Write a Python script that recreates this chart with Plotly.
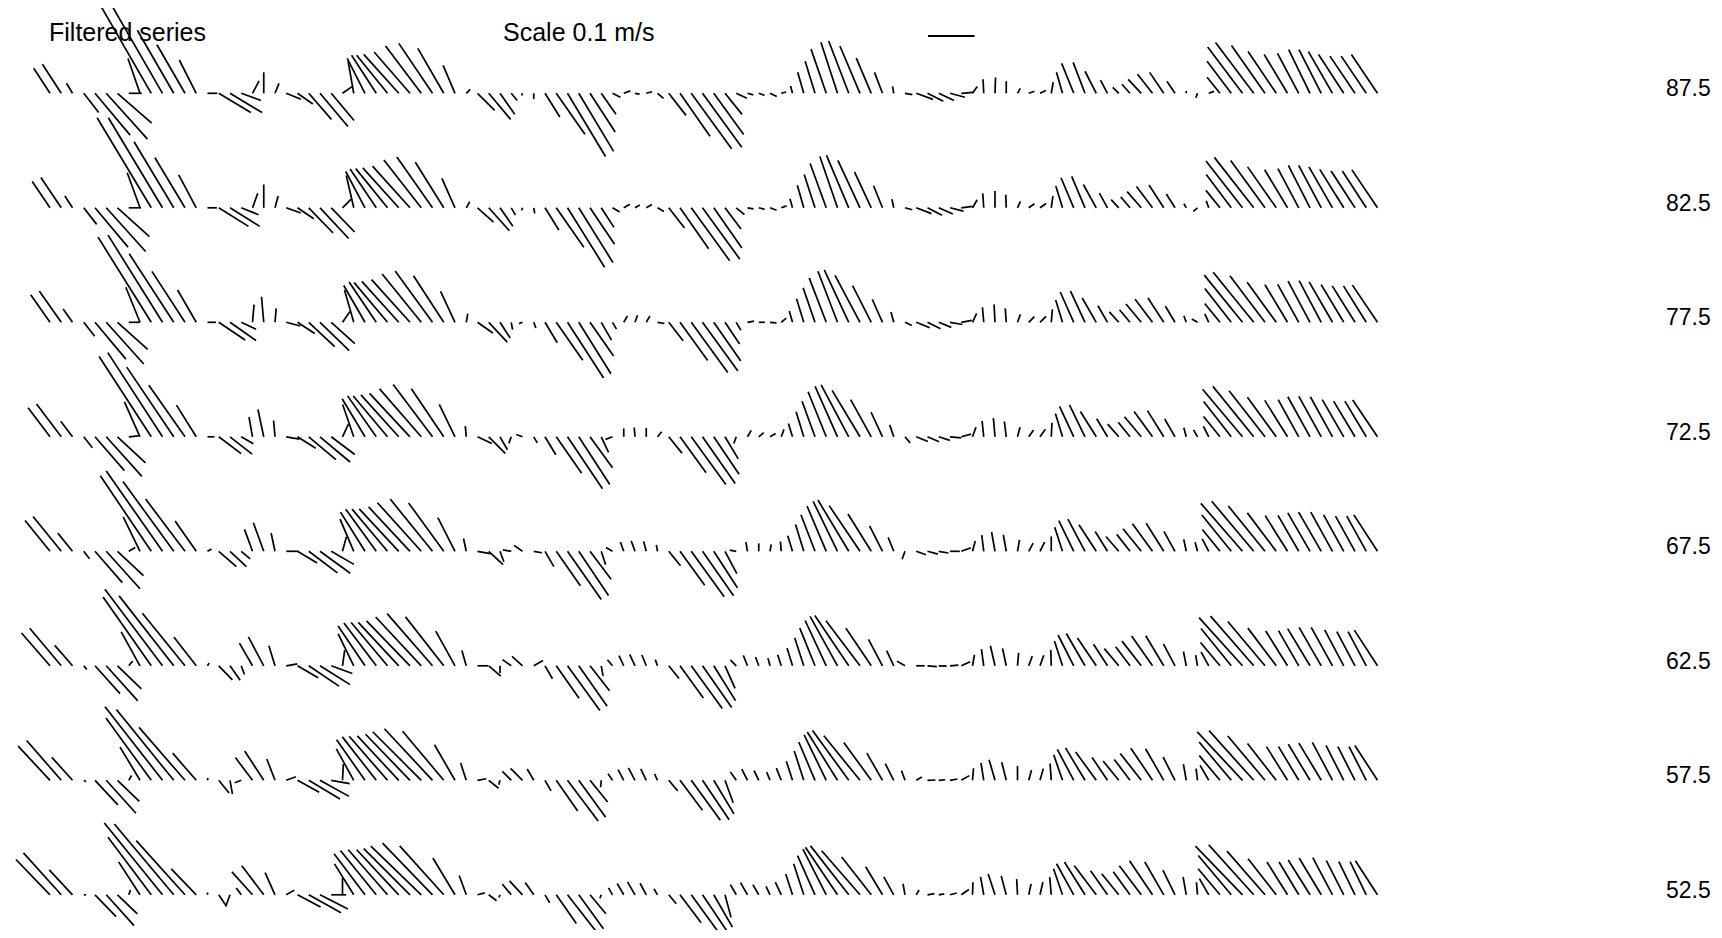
import math
import plotly.graph_objects as go

# ---------------- data ----------------
depths = [87.5, 82.5, 77.5, 72.5, 67.5, 62.5, 57.5, 52.5]
depth_labels = ["87.5", "82.5", "77.5", "72.5", "67.5", "62.5", "57.5", "52.5"]
time_index = list(range(119))

# speed (cm/s) and direction (deg clockwise from north), one pair of lists per depth
spd_87_5 = [6.4, 7.4, 2.5, 5.2, 11.7, 13.2, 9.7, 2.8, 7.9, 22.5, 21.8, 15.6, 12, 8, 2.1, 8, 8, 4.5, 3, 4.5,
            2.3, 3.4, 4, 7.4, 9.3, 7.6, 2.5, 7, 8.4, 9.7, 10.5, 11.2, 11.7, 12.7, 12.9, 11.1, 6.5, 1.2, 5.2, 7.3,
            5.5, 2, 0.5, 1.2, 6, 10.7, 15.8, 14.5, 9.9, 5.5, 1.9, 1.5, 1, 1.3, 1.7, 6, 11.2, 14.7, 14.3, 10.9,
            5.8, 2.5, 1.3, 1.3, 1.6, 1.1, 1.6, 4.7, 7.2, 10, 11.5, 12, 11, 8.2, 4.8, 1.5, 1.6, 3.8, 3.8, 3.6,
            3.3, 2.5, 1.8, 3, 3.4, 2.6, 1.2, 1.3, 1.4, 2.4, 4.7, 6.9, 7.1, 5.3, 3.2, 1.8, 2.6, 4.1, 5.2, 5.4,
            3.1, 0.5, 1, 1.2, 4.4, 8.6, 12.4, 13.6, 12.5, 10.8, 9.7, 9.7, 10.4, 10.5, 10.3, 9.9, 9.6, 9.6, 10]
dir_87_5 = [327, 327, 329, 142, 140, 138, 131, 90, 341, 330, 330, 330, 330, 333, 90, 121, 121, 110, 28, 0,
            22, 112, 125, 139, 140, 140, 55, 350, 333, 327, 321, 318, 319, 323, 326, 330, 337, 45, 135, 140,
            145, 140, 200, 180, 148, 145, 149, 149, 147, 145, 117, 70, 100, 75, 130, 142, 145, 144, 144, 144,
            141, 115, 105, 110, 115, 75, 345, 344, 343, 341, 342, 339, 337, 337, 339, 350, 100, 110, 117, 115,
            105, 85, 35, 357, 2, 0, 30, 70, 65, 10, 344, 338, 339, 333, 332, 315, 318, 317, 322, 326,
            326, 0, 200, 70, 321, 323, 323, 323, 325, 326, 329, 332, 334, 333, 330, 327, 326, 326, 326]

spd_82_5 = [6.8, 7.8, 3, 4.5, 11, 12.6, 9.2, 2.6, 8, 22.5, 22.5, 16.5, 12.5, 8, 2, 7.5, 7.5, 4, 3.3, 5,
            2.6, 3.3, 4.2, 7.5, 9, 7.2, 2.6, 7.1, 8.8, 10, 10.8, 11.5, 12, 13, 13.3, 11.5, 6.9, 1.5, 4.6, 6.6,
            4.8, 1.8, 0.6, 1.2, 5.6, 10.3, 15, 13.8, 9.4, 5, 1.8, 1.5, 1.2, 1.4, 1.6, 5.5, 10.7, 14, 13.6, 10.5,
            5.7, 2.3, 1.3, 1.3, 1.5, 1.2, 2, 5, 7.5, 10.1, 11.6, 12.2, 11.2, 8.5, 5.1, 1.9, 1.6, 3.5, 3.5, 3.3,
            3, 2.4, 2, 3.1, 3.6, 2.8, 1.5, 1.5, 1.6, 2.6, 4.9, 7, 7.3, 5.7, 3.6, 2.4, 3.1, 4.6, 5.7, 5.8,
            3.5, 1, 1.2, 1.6, 4.8, 8.9, 12.7, 13.7, 12.5, 10.7, 9.5, 9.5, 10.2, 10.3, 10.1, 9.7, 9.4, 9.4, 9.8]
dir_82_5 = [326, 326, 327, 142, 140, 138, 132, 90, 340, 329, 329, 329, 329, 332, 90, 122, 122, 112, 20, 0,
            15, 110, 124, 136, 137, 136, 45, 347, 332, 326, 321, 318, 318, 322, 325, 328, 336, 30, 132, 138,
            145, 150, 200, 170, 148, 145, 148, 148, 146, 147, 120, 60, 60, 60, 120, 142, 145, 144, 144, 145,
            143, 130, 100, 105, 110, 70, 344, 344, 342, 340, 341, 337, 335, 335, 338, 348, 105, 111, 117, 114,
            104, 83, 30, 356, 0, 358, 25, 55, 55, 8, 343, 337, 337, 331, 331, 317, 320, 319, 323, 327,
            328, 330, 230, 340, 321, 323, 322, 322, 324, 325, 329, 332, 333, 332, 330, 328, 327, 327, 326]

spd_77_5 = [7.2, 8.2, 3.5, 3.8, 10.3, 12, 8.7, 2.4, 8.1, 21.5, 22, 17.5, 13, 8, 1.8, 6.8, 6.8, 3.5, 3.8, 5.5,
            3, 3.1, 4.4, 7.6, 8.7, 6.8, 2.8, 7.2, 9.1, 10.4, 11.1, 11.8, 12.3, 13.3, 13.6, 11.9, 7.3, 1.9, 4, 5.8,
            4, 1.6, 0.8, 1.3, 5.1, 9.9, 14.2, 13, 8.8, 4.4, 1.7, 1.6, 1.6, 1.6, 1.5, 5, 10.1, 13.3, 12.9, 10.1,
            5.6, 2, 1.4, 1.3, 1.4, 1.4, 2.5, 5.3, 7.8, 10.2, 11.7, 12.4, 11.4, 8.8, 5.4, 2.3, 1.6, 3.1, 3.1, 2.9,
            2.7, 2.3, 2.1, 3.2, 3.8, 3, 1.8, 1.7, 1.8, 2.8, 5, 7.1, 7.4, 6, 4.1, 3, 3.5, 5.1, 6.2, 6.2,
            4, 1.5, 1.4, 2, 5.2, 9.2, 13, 13.8, 12.5, 10.6, 9.4, 9.3, 10, 10.1, 10, 9.4, 9.2, 9.2, 9.6]
dir_77_5 = [325, 325, 325, 142, 140, 138, 132, 90, 338, 328, 328, 327, 327, 330, 90, 124, 125, 115, 5, 355,
            5, 105, 123, 133, 134, 132, 35, 344, 330, 326, 320, 318, 318, 321, 324, 327, 335, 10, 125, 137,
            147, 170, 250, 160, 149, 145, 147, 148, 145, 150, 150, 30, 20, 30, 100, 142, 144, 144, 144, 145,
            146, 150, 80, 90, 95, 50, 344, 343, 341, 339, 339, 335, 332, 333, 336, 345, 115, 112, 116, 112,
            100, 80, 25, 355, 357, 356, 20, 45, 45, 5, 343, 336, 335, 330, 330, 318, 320, 320, 323, 327,
            329, 340, 300, 335, 321, 322, 321, 321, 323, 324, 329, 331, 332, 332, 330, 329, 328, 328, 326]

spd_72_5 = [7.8, 8.8, 4.2, 3, 9.6, 11.4, 8.2, 2.1, 8.2, 20.5, 21.5, 18, 13.5, 8, 1.5, 6, 6, 3, 4.3, 6,
            3.5, 2.9, 4.6, 7.6, 8.4, 6.3, 3, 7.3, 9.5, 10.7, 11.4, 12.1, 12.7, 13.6, 14, 12.4, 7.7, 2.3, 3.4, 5,
            3.2, 1.5, 1.4, 1.5, 4.5, 9.5, 13.4, 12.2, 8.2, 3.7, 1.6, 1.8, 2, 1.9, 1.4, 4.5, 9.5, 12.6, 12.2, 9.7,
            5.5, 1.5, 1.6, 1.4, 1.4, 1.7, 3, 5.6, 8.1, 10.4, 11.8, 12.6, 11.6, 9.1, 5.8, 2.7, 1.7, 2.7, 2.7, 2.5,
            2.4, 2.2, 2.2, 3.4, 4, 3.3, 2.1, 1.8, 2, 3, 5.2, 7.2, 7.6, 6.4, 4.5, 3.6, 4, 5.6, 6.7, 6.6,
            4.4, 2, 1.7, 2.5, 5.6, 9.6, 13.3, 13.9, 12.5, 10.5, 9.2, 9.1, 9.8, 9.9, 9.8, 9.2, 8.9, 8.9, 9.5]
dir_72_5 = [323, 323, 323, 142, 139, 138, 133, 85, 336, 327, 327, 326, 325, 328, 90, 127, 128, 120, 350, 348,
            355, 100, 122, 130, 130, 127, 25, 341, 329, 325, 320, 318, 317, 319, 323, 326, 334, 355, 115, 135,
            150, 200, 290, 150, 149, 145, 146, 147, 144, 155, 250, 0, 355, 0, 40, 141, 144, 144, 145, 146,
            149, 200, 30, 50, 60, 20, 343, 343, 340, 338, 336, 332, 329, 331, 335, 341, 140, 112, 113, 108,
            95, 75, 20, 354, 355, 353, 15, 35, 35, 3, 343, 335, 334, 328, 329, 319, 321, 320, 324, 328,
            330, 345, 330, 333, 321, 322, 320, 321, 322, 324, 328, 331, 331, 331, 331, 330, 329, 329, 326]

spd_67_5 = [8.5, 9.6, 5, 2, 8.9, 10.8, 7.6, 1.6, 8.2, 19.5, 21, 18.5, 14, 7.9, 1, 5, 4.8, 2.5, 5, 6.5,
            4, 2.6, 4.9, 7.7, 8, 5.6, 3.2, 7.5, 9.9, 11.1, 11.8, 12.4, 13, 14, 14.4, 12.8, 8.1, 2.8, 2.8, 4.2,
            2.4, 1.8, 2.2, 1.8, 3.8, 9, 12.6, 11.4, 7.5, 3, 1.6, 2.1, 2.4, 2.2, 1.4, 4, 9, 12, 11.6, 9.3,
            5.4, 1.4, 2, 1.7, 1.5, 2.1, 3.5, 6, 8.4, 10.5, 11.9, 12.8, 11.8, 9.4, 6.1, 3.2, 1.8, 2.2, 2.3, 2.1,
            2.1, 2.2, 2.3, 3.5, 4.2, 3.6, 2.5, 2, 2.2, 3.2, 5.4, 7.3, 7.8, 6.8, 5, 4.2, 4.6, 6.2, 7.3, 7.1,
            4.9, 2.6, 2, 3, 6, 10, 13.6, 14, 12.5, 10.3, 9, 8.9, 9.5, 9.7, 9.6, 8.9, 8.6, 8.6, 9.3]
dir_67_5 = [321, 321, 321, 142, 139, 138, 133, 60, 334, 326, 325, 324, 323, 325, 60, 131, 133, 130, 340, 340,
            348, 90, 121, 127, 126, 120, 15, 337, 328, 324, 320, 317, 317, 318, 321, 324, 333, 348, 100, 133,
            160, 280, 305, 100, 150, 145, 145, 146, 143, 162, 300, 340, 340, 345, 350, 141, 144, 144, 145, 147,
            152, 280, 350, 0, 10, 355, 343, 343, 339, 337, 334, 329, 326, 328, 333, 338, 200, 110, 105, 100,
            90, 70, 15, 353, 350, 350, 10, 28, 27, 0, 342, 334, 332, 327, 328, 319, 322, 321, 324, 328,
            331, 348, 345, 332, 321, 321, 319, 320, 321, 323, 328, 330, 330, 330, 331, 331, 331, 331, 327]

spd_62_5 = [9.3, 10.5, 5.8, 1, 8, 10.1, 7.1, 1.3, 8.3, 18, 20.5, 19, 14.5, 7.8, 0.7, 4.2, 3.8, 2, 5.6, 7,
            4.5, 2.4, 5.1, 7.8, 7.6, 4.8, 3.4, 7.6, 10.3, 11.5, 12.1, 12.7, 13.4, 14.3, 14.8, 13.3, 8.5, 3.4, 2.3, 3.4,
            1.6, 2.3, 3, 2.3, 3.2, 8.5, 11.8, 10.6, 6.8, 2.2, 1.7, 2.4, 2.7, 2.5, 1.4, 3.5, 8.5, 11.3, 10.9, 8.8,
            5.3, 1.8, 2.4, 2, 1.7, 2.5, 4, 6.3, 8.7, 10.7, 12.1, 13, 12.1, 9.7, 6.4, 3.6, 2, 1.8, 2, 1.7,
            1.8, 2.1, 2.4, 3.6, 4.4, 3.8, 2.8, 2.2, 2.4, 3.4, 5.6, 7.4, 8, 7.2, 5.5, 4.8, 5.1, 6.7, 7.8, 7.5,
            5.3, 3.1, 2.3, 3.4, 6.5, 10.3, 13.9, 14.1, 12.4, 10.1, 8.8, 8.7, 9.3, 9.5, 9.4, 8.7, 8.3, 8.3, 9.1]
dir_62_5 = [319, 320, 319, 140, 138, 138, 134, 40, 331, 325, 323, 322, 321, 322, 30, 136, 145, 160, 330, 332,
            343, 80, 120, 124, 122, 110, 8, 334, 326, 323, 320, 317, 316, 317, 319, 322, 331, 344, 90, 131,
            180, 305, 312, 60, 150, 145, 144, 145, 142, 170, 320, 335, 335, 338, 340, 141, 144, 144, 145, 148,
            156, 315, 338, 340, 345, 342, 343, 342, 338, 335, 331, 326, 323, 326, 332, 335, 300, 90, 95, 92,
            85, 65, 10, 352, 347, 348, 5, 20, 20, 358, 342, 333, 330, 326, 327, 320, 323, 322, 325, 329,
            332, 349, 350, 331, 320, 321, 318, 319, 320, 323, 328, 330, 329, 330, 331, 332, 332, 332, 327]

spd_57_5 = [10, 11.3, 6.6, 0.6, 7.2, 9.5, 6.5, 1.2, 8.3, 16.5, 20, 19.5, 15, 7.7, 0.5, 3.5, 3, 1.5, 6.1, 7.5,
            4.9, 2.2, 5.3, 7.8, 7.1, 4, 3.5, 7.7, 10.6, 11.8, 12.5, 13, 13.7, 14.7, 15.1, 13.7, 8.8, 3.9, 1.9, 2.7,
            1, 2.7, 3.6, 2.8, 2.6, 8, 10.9, 9.8, 6, 1.5, 1.7, 2.6, 3, 2.7, 1.5, 3, 8, 10.6, 10.2, 8.4,
            5.1, 2.2, 2.7, 2.3, 1.9, 2.8, 4.3, 6.6, 8.9, 10.8, 12.2, 13.2, 12.3, 10, 6.7, 4, 2.2, 1.4, 1.7, 1.4,
            1.6, 2, 2.6, 3.8, 4.6, 4, 3.1, 2.3, 2.6, 3.6, 5.8, 7.5, 8.1, 7.5, 5.9, 5.3, 5.6, 7.3, 8.3, 7.8,
            5.6, 3.5, 2.5, 3.7, 6.9, 10.7, 14.2, 14.3, 12.4, 10, 8.5, 8.4, 9, 9.3, 9.2, 8.4, 8.1, 8.1, 8.9]
dir_57_5 = [317, 319, 318, 120, 137, 138, 134, 30, 329, 324, 322, 321, 319, 319, 10, 141, 170, 250, 323, 327,
            339, 70, 119, 121, 119, 100, 3, 331, 325, 322, 319, 317, 316, 315, 317, 320, 330, 342, 80, 129,
            195, 315, 315, 330, 150, 145, 143, 144, 141, 185, 326, 332, 332, 334, 335, 140, 143, 144, 146, 149,
            160, 325, 333, 334, 338, 338, 342, 342, 337, 334, 328, 324, 321, 324, 330, 333, 340, 60, 88, 85,
            80, 60, 5, 351, 344, 346, 0, 15, 16, 356, 341, 332, 329, 324, 326, 321, 323, 322, 326, 330,
            333, 350, 353, 330, 320, 320, 317, 318, 320, 322, 328, 329, 329, 329, 332, 333, 333, 333, 327]

spd_52_5 = [10.5, 12.1, 7.3, 0.5, 6.5, 8.9, 5.9, 1.1, 8.4, 15.4, 19.8, 19.8, 15.6, 7.7, 0.5, 3, 2.5, 1.8, 6.6, 7.8,
            5.2, 2, 5.6, 7.9, 6.7, 3.2, 3.6, 7.8, 11, 12.2, 12.8, 13.2, 14, 15, 15.4, 14.1, 9.2, 4.4, 1.6, 2.1,
            0.6, 3, 4.1, 3.2, 2, 7.5, 10, 9, 5.3, 0.8, 1.7, 2.8, 3.2, 2.8, 1.5, 2.5, 7.5, 10, 9.5, 8,
            5, 2.5, 3, 2.5, 2, 3, 4.7, 7, 9.2, 11, 12.3, 13.3, 12.5, 10.3, 7, 4.4, 2.4, 1.2, 1.5, 1.2,
            1.5, 2, 2.7, 3.9, 4.7, 4.2, 3.4, 2.4, 2.8, 3.8, 5.9, 7.6, 8.3, 7.8, 6.3, 5.8, 6.1, 7.8, 8.8, 8.1,
            5.9, 3.9, 2.7, 4, 7.3, 11, 14.5, 14.4, 12.4, 9.8, 8.3, 8.2, 8.8, 9.2, 9, 8.2, 7.9, 7.9, 8.7]
dir_52_5 = [316, 318, 317, 90, 136, 138, 134, 20, 327, 323, 321, 320, 318, 316, 0, 146, 200, 324, 318, 323,
            336, 60, 118, 119, 117, 90, 0, 328, 323, 321, 319, 317, 315, 314, 316, 318, 329, 340, 75, 127,
            200, 320, 317, 325, 150, 145, 142, 144, 140, 200, 330, 330, 330, 332, 330, 140, 143, 144, 146, 150,
            165, 330, 330, 330, 335, 335, 342, 342, 336, 333, 326, 322, 319, 322, 329, 331, 350, 30, 80, 80,
            75, 55, 2, 350, 342, 345, 357, 12, 13, 355, 341, 331, 328, 323, 325, 321, 324, 323, 326, 330,
            334, 350, 355, 330, 320, 320, 316, 318, 319, 322, 328, 329, 328, 329, 332, 333, 334, 334, 327]

speeds = [spd_87_5, spd_82_5, spd_77_5, spd_72_5, spd_67_5, spd_62_5, spd_57_5, spd_52_5]
directions = [dir_87_5, dir_82_5, dir_77_5, dir_72_5, dir_67_5, dir_62_5, dir_57_5, dir_52_5]

scale_speed = 10.0          # cm/s  (= 0.1 m/s)
scale_time = 78.04
scale_depth = 90.0

# ---------------- geometry (pixel-consistent scales) ----------------
W, H = 1706, 922            # page has an 8 px body margin
px_per_t = 11.25            # pixels per time step
px_per_m = 114.5 / 5.0      # pixels per metre of depth
px_per_cms = 4.67           # pixels per cm/s of velocity
x0_px, y0_px = 42.0, 85.3   # figure pixel of t=0, depth 87.5

x_range = [(0 - x0_px) / px_per_t, (W - x0_px) / px_per_t]
y_top = 87.5 + y0_px / px_per_m
y_range = [y_top - H / px_per_m, y_top]

kx = px_per_cms / px_per_t  # time units per cm/s
ky = px_per_cms / px_per_m  # depth units per cm/s

fig = go.Figure()
for d, spd, dr in zip(depths, speeds, directions):
    xs, ys = [], []
    for t, s, a in zip(time_index, spd, dr):
        u = s * math.sin(math.radians(a))
        v = s * math.cos(math.radians(a))
        xs += [t, t + u * kx, None]
        ys += [d, d + v * ky, None]
    fig.add_trace(go.Scatter(x=xs, y=ys, mode="lines",
                             line=dict(color="black", width=1.7),
                             hoverinfo="skip", showlegend=False))

# scale bar
fig.add_trace(go.Scatter(x=[scale_time, scale_time + scale_speed * kx],
                         y=[scale_depth, scale_depth], mode="lines",
                         line=dict(color="black", width=2), hoverinfo="skip",
                         showlegend=False))

font = dict(family="Liberation Sans, Arial, Helvetica, sans-serif", color="black")
ann = []
ann.append(dict(x=39 / W, y=1 - 24 / H, xref="paper", yref="paper", text="Filtered series",
                showarrow=False, xanchor="left", yanchor="middle", font=dict(size=25, **font)))
ann.append(dict(x=493 / W, y=1 - 24 / H, xref="paper", yref="paper", text="Scale 0.1 m/s",
                showarrow=False, xanchor="left", yanchor="middle", font=dict(size=25, **font)))
for d, lab in zip(depths, depth_labels):
    ann.append(dict(x=(1705 - x0_px) / px_per_t, y=d + 5 / px_per_m, xref="x", yref="y", text=lab,
                    showarrow=False, xanchor="right", yanchor="middle", font=dict(size=23, **font)))

fig.update_layout(width=W, height=H, margin=dict(l=0, r=0, t=0, b=0),
                  paper_bgcolor="white", plot_bgcolor="white", annotations=ann,
                  xaxis=dict(range=x_range, visible=False, fixedrange=True),
                  yaxis=dict(range=y_range, visible=False, fixedrange=True))
fig.write_html("out.html")
